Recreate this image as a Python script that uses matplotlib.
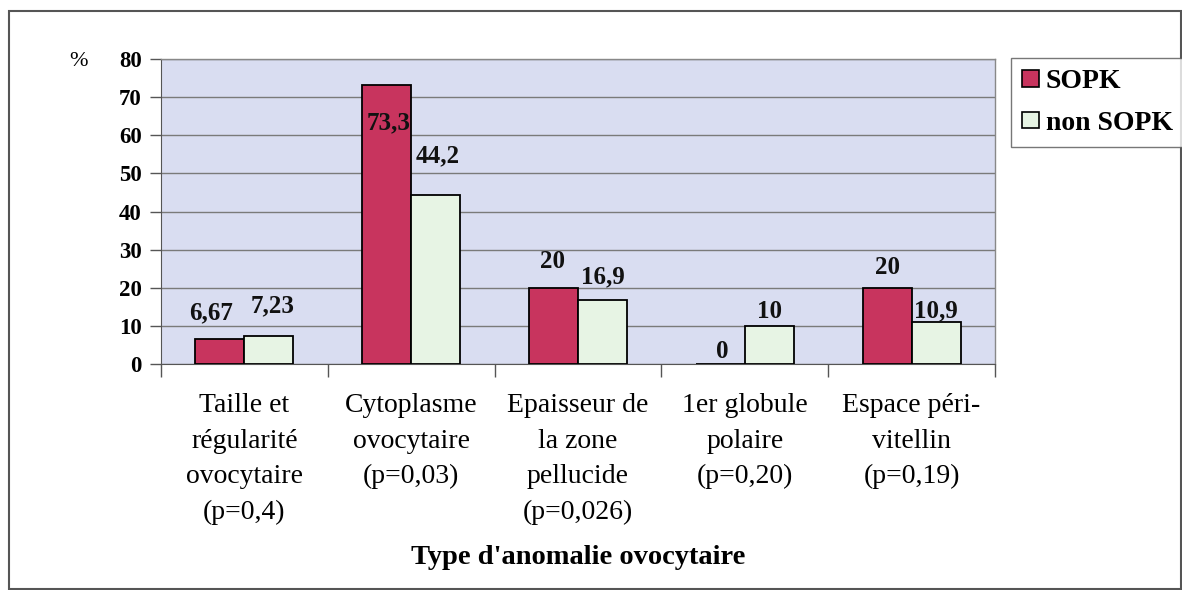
import matplotlib
matplotlib.use("Agg")
import matplotlib.pyplot as plt
import numpy as np
from matplotlib.patches import Rectangle, Patch

categories = [
    "Taille et\nrégularité\novocytaire\n(p=0,4)",
    "Cytoplasme\novocytaire\n(p=0,03)",
    "Epaisseur de\nla zone\npellucide\n(p=0,026)",
    "1er globule\npolaire\n(p=0,20)",
    "Espace péri-\nvitellin\n(p=0,19)",
]
sopk = [6.67, 73.3, 20, 0, 20]
non_sopk = [7.23, 44.2, 16.9, 10, 10.9]
sopk_labels = ["6,67", "73,3", "20", "0", "20"]
non_sopk_labels = ["7,23", "44,2", "16,9", "10", "10,9"]
series_names = ["SOPK", "non SOPK"]
yticks = [0, 10, 20, 30, 40, 50, 60, 70, 80]
xlabel = "Type d'anomalie ovocytaire"
ylabel = "%"

# label nudges (pixels: dx, dy of label centre relative to bar top centre)
sopk_nudge = [(-9, 26), (2, -38), (-1, 26), (2, 12), (0, 20)]
non_nudge = [(4, 31), (2, 40), (0, 23), (0, 14), (0, 12)]

FONT = "Liberation Serif"
plt.rcParams["font.family"] = [FONT, "DejaVu Serif"]

W, H = 1182, 590
fig = plt.figure(figsize=(W / 100, H / 100), dpi=100)
fig.patch.set_facecolor("white")

L, R, T, B = 161, 995, 59, 364
ax = fig.add_axes([L / W, 1 - B / H, (R - L) / W, (B - T) / H])
ax.set_facecolor("#D9DDF1")

c_sopk = "#C8345E"
c_non = "#E7F4E4"
x = np.arange(len(categories))
bw = 0.294
b1 = ax.bar(x - bw / 2, sopk, bw, color=c_sopk, edgecolor="black", linewidth=1.3, zorder=3)
b2 = ax.bar(x + bw / 2, non_sopk, bw, color=c_non, edgecolor="black", linewidth=1.3, zorder=3)

ax.set_xlim(-0.5, len(categories) - 0.5)
ax.set_ylim(0, 80)
ax.set_yticks(yticks)
ax.set_yticklabels([str(v) for v in yticks], fontsize=16.5, fontweight="bold")
ax.yaxis.grid(True, color="#7a7a7a", linewidth=1.0, zorder=1)
ax.set_axisbelow(True)

ax.set_xticks(x)
ax.set_xticklabels(categories, fontsize=20, linespacing=1.55, va="top")
ax.tick_params(axis="x", length=0, pad=21)
ax.set_xticks(np.arange(len(categories) + 1) - 0.5, minor=True)
ax.tick_params(axis="x", which="minor", length=9, width=1.0, color="#555555")
ax.tick_params(axis="y", length=8, width=1.0, color="#555555", pad=6)

for s in ["top", "right"]:
    ax.spines[s].set_color("#888888")
    ax.spines[s].set_linewidth(1.0)
ax.spines["left"].set_color("#555555")
ax.spines["bottom"].set_color("#555555")

for rects, labels, nudges in [(b1, sopk_labels, sopk_nudge), (b2, non_sopk_labels, non_nudge)]:
    for r, lab, (dx, dy) in zip(rects, labels, nudges):
        ax.annotate(lab, (r.get_x() + r.get_width() / 2, r.get_height()),
                    xytext=(dx, dy), textcoords="offset pixels",
                    ha="center", va="center", fontsize=18, fontweight="bold",
                    color="#111111", zorder=5)

fig.text(78 / W, 1 - 62 / H, ylabel, fontsize=16, ha="center", va="center")
fig.text(578 / W, 1 - 558 / H, xlabel, fontsize=20.5, fontweight="bold", ha="center", va="center")

handles = [Patch(facecolor=c_sopk, edgecolor="black", linewidth=1.2),
           Patch(facecolor=c_non, edgecolor="black", linewidth=1.2)]
leg = fig.legend(handles, series_names, loc="upper left",
                 bbox_to_anchor=(1011 / W, 1 - 58 / H),
                 prop={"family": FONT, "weight": "bold", "size": 20},
                 frameon=True, fancybox=False, edgecolor="#555555",
                 handlelength=0.6, handleheight=0.55, handletextpad=0.25,
                 borderpad=0.4, labelspacing=0.6, borderaxespad=0)
leg.get_frame().set_linewidth(1.0)

fig.patches.append(Rectangle((9 / W, 1 - 589 / H), (1181 - 9) / W, (589 - 11) / H,
                             transform=fig.transFigure, fill=False,
                             edgecolor="#555555", linewidth=1.5))

fig.savefig("out.png", dpi=100)
